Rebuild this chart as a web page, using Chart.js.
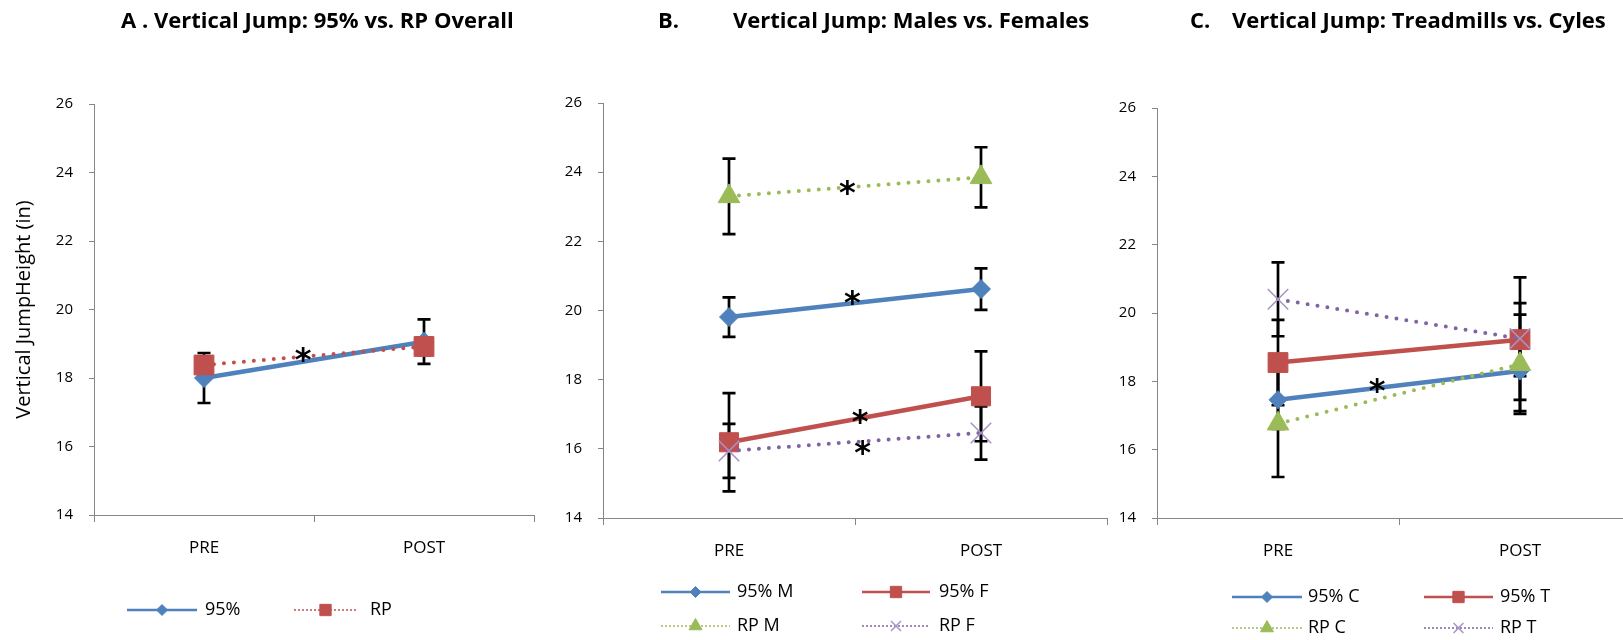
<!DOCTYPE html>
<html>
<head>
<meta charset="utf-8">
<script src="https://cdn.jsdelivr.net/npm/chart.js@4/dist/chart.umd.min.js"></script>
<style>
    html, body { margin: 0; padding: 0; background: #fff; overflow: hidden; width: 1623px; height: 640px; }
    canvas { position: absolute; top: 0; }
</style>
</head>
<body>
<canvas id="panelA" width="560" height="660" style="left:0px"></canvas>
<canvas id="panelB" width="580" height="660" style="left:540px"></canvas>
<canvas id="panelC" width="580" height="660" style="left:1080px"></canvas>
<script>
// ---------- DATA ----------
const phases = ['PRE', 'POST'];
const yTicks = [14, 16, 18, 20, 22, 24, 26];

// A. overall
const a95 = [18.00, 19.06];
const a95Err = [0.73, 0.65];
const aRP = [18.38, 18.92];
const aRPErr = [0.25, 0.25];
const aStarAt = [0.45];
const aStarValue = [18.72];

// B. males vs females
const bMale95 = [19.81, 20.62];
const bMale95Err = [0.57, 0.60];
const bFemale95 = [16.19, 17.52];
const bFemale95Err = [1.42, 1.30];
const bMaleRP = [23.30, 23.85];
const bMaleRPErr = [1.09, 0.87];
const bFemaleRP = [15.94, 16.46];
const bFemaleRPErr = [0.78, 0.77];
const bStarAt = [0.47, 0.49, 0.52, 0.53];
const bStarValue = [23.60, 20.43, 16.99, 16.07];

// C. treadmills vs cycles
const cCyc95 = [17.46, 18.30];
const cCyc95Err = [0.85, 1.17];
const cTread95 = [18.55, 19.22];
const cTread95Err = [1.25, 1.07];
const cCycRP = [16.76, 18.50];
const cCycRPErr = [1.56, 1.45];
const cTreadRP = [20.40, 19.25];
const cTreadRPErr = [1.08, 1.79];
const cStarAt = [0.41];
const cStarValue = [17.93];

// ---------- STYLES ----------
const BLUE = '#4F81BD', RED = '#C0504D', GREEN = '#9BBB59', PURPLE = '#8064A2';
const AXIS = '#868686';
const FONT = '"Open Sans"';

function series(label, data, err, color, pointStyle, radius, dotted) {
    return {
        label, data, err, dotted,
        borderColor: color,
        backgroundColor: color,
        borderWidth: dotted ? 4 : 4.5,
        borderDash: dotted ? [0, 10] : [],
        borderCapStyle: dotted ? 'round' : 'butt',
        pointStyle,
        pointRadius: radius,
        pointHoverRadius: radius,
        pointBackgroundColor: color,
        pointBorderColor: pointStyle === 'crossRot' ? '#a592c6' : color,
        pointBorderWidth: pointStyle === 'crossRot' ? 1.5 : 1,
        legendRadius: { rectRot: 5.5, rect: 8, triangle: 7.5, crossRot: 7 }[pointStyle],
        tension: 0
    };
}

// ---------- PLUGINS ----------
const errorBars = {
    id: 'errorBars',
    beforeDatasetsDraw(chart) {
        const { ctx } = chart;
        const y = chart.scales.y;
        ctx.save();
        ctx.strokeStyle = '#000';
        ctx.lineWidth = 2.7;
        chart.data.datasets.forEach((ds, i) => {
            chart.getDatasetMeta(i).data.forEach((pt, j) => {
                const top = y.getPixelForValue(ds.data[j] + ds.err[j]);
                const bot = y.getPixelForValue(ds.data[j] - ds.err[j]);
                ctx.beginPath();
                ctx.moveTo(pt.x, top); ctx.lineTo(pt.x, bot);
                ctx.moveTo(pt.x - 6.5, top); ctx.lineTo(pt.x + 6.5, top);
                ctx.moveTo(pt.x - 6.5, bot); ctx.lineTo(pt.x + 6.5, bot);
                ctx.stroke();
            });
        });
        ctx.restore();
    }
};

function makePanel(id, datasets, cfg) {
    const panelDecor = {
        id: 'panelDecor',
        afterDraw(chart) {
            const { ctx } = chart;
            const x = chart.scales.x, y = chart.scales.y;
            ctx.save();

            // title
            ctx.fillStyle = '#000';
            ctx.textBaseline = 'middle';
            ctx.textAlign = 'left';
            ctx.font = `bold 22px ${FONT}`;
            ctx.fillText(cfg.titleLabel, cfg.titleLabelX, 22);
            ctx.fillText(cfg.titleText, cfg.titleTextX, 22);

            // significance stars
            ctx.textAlign = 'center';
            ctx.textBaseline = 'alphabetic';
            ctx.font = 'bold 32px "DejaVu Sans"';
            cfg.starAt.forEach((at, k) => {
                ctx.fillText('*', x.getPixelForValue(at), y.getPixelForValue(cfg.starValue[k]) + 17);
            });

            // legend
            ctx.textAlign = 'left';
            ctx.textBaseline = 'middle';
            ctx.font = `18px ${FONT}`;
            chart.data.datasets.forEach((ds, i) => {
                const col = i % 2, row = Math.floor(i / 2);
                const x0 = cfg.legend.start[col], x1 = cfg.legend.end[col];
                const ly = cfg.legend.rows[row];
                ctx.strokeStyle = ds.borderColor;
                ctx.lineWidth = ds.dotted ? 1.5 : 2.5;
                ctx.setLineDash(ds.dotted ? [2, 2] : []);
                ctx.beginPath();
                ctx.moveTo(x0, ly); ctx.lineTo(x1, ly);
                ctx.stroke();
                ctx.setLineDash([]);
                ctx.fillStyle = ds.pointBackgroundColor;
                ctx.strokeStyle = ds.pointBorderColor;
                ctx.lineWidth = ds.pointBorderWidth;
                Chart.helpers.drawPoint(ctx, {
                    pointStyle: ds.pointStyle, radius: ds.legendRadius, rotation: 0,
                    borderWidth: ds.pointBorderWidth
                }, (x0 + x1) / 2, ly);
                ctx.fillStyle = '#000';
                ctx.fillText(ds.label, cfg.legend.text[col], ly);
            });
            ctx.restore();
        }
    };

    datasets.forEach((ds, i) => { ds.order = datasets.length - i; });

    return new Chart(document.getElementById(id), {
        type: 'line',
        data: { labels: phases, datasets },
        options: {
            responsive: false,
            animation: false,
            events: [],
            layout: { autoPadding: false, padding: cfg.padding },
            plugins: { legend: { display: false }, tooltip: { enabled: false } },
            scales: {
                x: {
                    offset: true,
                    grid: { offset: true, drawOnChartArea: false, drawTicks: true, tickLength: 7, color: AXIS },
                    border: { display: true, color: AXIS, width: 1 },
                    ticks: { font: { family: FONT, size: 17 }, color: '#000', padding: 16, maxRotation: 0 },
                    afterFit: s => { s.height = 60; }
                },
                y: {
                    min: 14, max: 26,
                    afterBuildTicks: s => { s.ticks = yTicks.map(v => ({ value: v })); },
                    grid: { drawOnChartArea: false, drawTicks: true, tickLength: 5, color: AXIS },
                    border: { display: true, color: AXIS, width: 1 },
                    ticks: { font: { family: FONT, size: 15 }, color: '#000', padding: 16 },
                    title: {
                        display: !!cfg.yTitle, text: cfg.yTitle || '',
                        font: { family: FONT, size: 20 }, color: '#000', padding: { top: 2, bottom: 4 }
                    },
                    afterFit: s => { s.width = cfg.yWidth; }
                }
            }
        },
        plugins: [errorBars, panelDecor]
    });
}

// ---------- PANELS ----------
makePanel('panelA', [
    series('95%', a95, a95Err, BLUE, 'rectRot', 9.5, false),
    series('RP', aRP, aRPErr, RED, 'rect', 14, true)
], {
    titleLabel: 'A . Vertical Jump: 95% vs. RP Overall', titleLabelX: 121, titleText: '', titleTextX: 0,
    yTitle: 'Vertical JumpHeight (in)', yWidth: 84,
    padding: { left: 10, right: 26, top: 104, bottom: 660 - 515 - 60 },
    starAt: aStarAt, starValue: aStarValue,
    legend: { start: [127, 294], end: [197, 357], text: [205, 370], rows: [610] }
});

makePanel('panelB', [
    series('95% M', bMale95, bMale95Err, BLUE, 'rectRot', 9.5, false),
    series('95% F', bFemale95, bFemale95Err, RED, 'rect', 13.5, false),
    series('RP M', bMaleRP, bMaleRPErr, GREEN, 'triangle', 12.5, true),
    series('RP F', bFemaleRP, bFemaleRPErr, PURPLE, 'crossRot', 14.5, true)
], {
    titleLabel: 'B.', titleLabelX: 118, titleText: 'Vertical Jump: Males vs. Females', titleTextX: 193,
    yWidth: 50,
    padding: { left: 13, right: 13, top: 103, bottom: 660 - 518 - 60 },
    starAt: bStarAt, starValue: bStarValue,
    legend: { start: [121, 322], end: [190, 390], text: [197, 399], rows: [592, 626] }
});

makePanel('panelC', [
    series('95% C', cCyc95, cCyc95Err, BLUE, 'rectRot', 9, false),
    series('95% T', cTread95, cTread95Err, RED, 'rect', 14, false),
    series('RP C', cCycRP, cCycRPErr, GREEN, 'triangle', 12.5, true),
    series('RP T', cTreadRP, cTreadRPErr, PURPLE, 'crossRot', 14.5, true)
], {
    titleLabel: 'C.', titleLabelX: 110, titleText: 'Vertical Jump: Treadmills vs. Cyles', titleTextX: 152,
    yWidth: 50,
    padding: { left: 27, right: 19, top: 108, bottom: 660 - 518 - 60 },
    starAt: cStarAt, starValue: cStarValue,
    legend: { start: [152, 344], end: [222, 413], text: [228, 420], rows: [597, 628] }
});
</script>
</body>
</html>
